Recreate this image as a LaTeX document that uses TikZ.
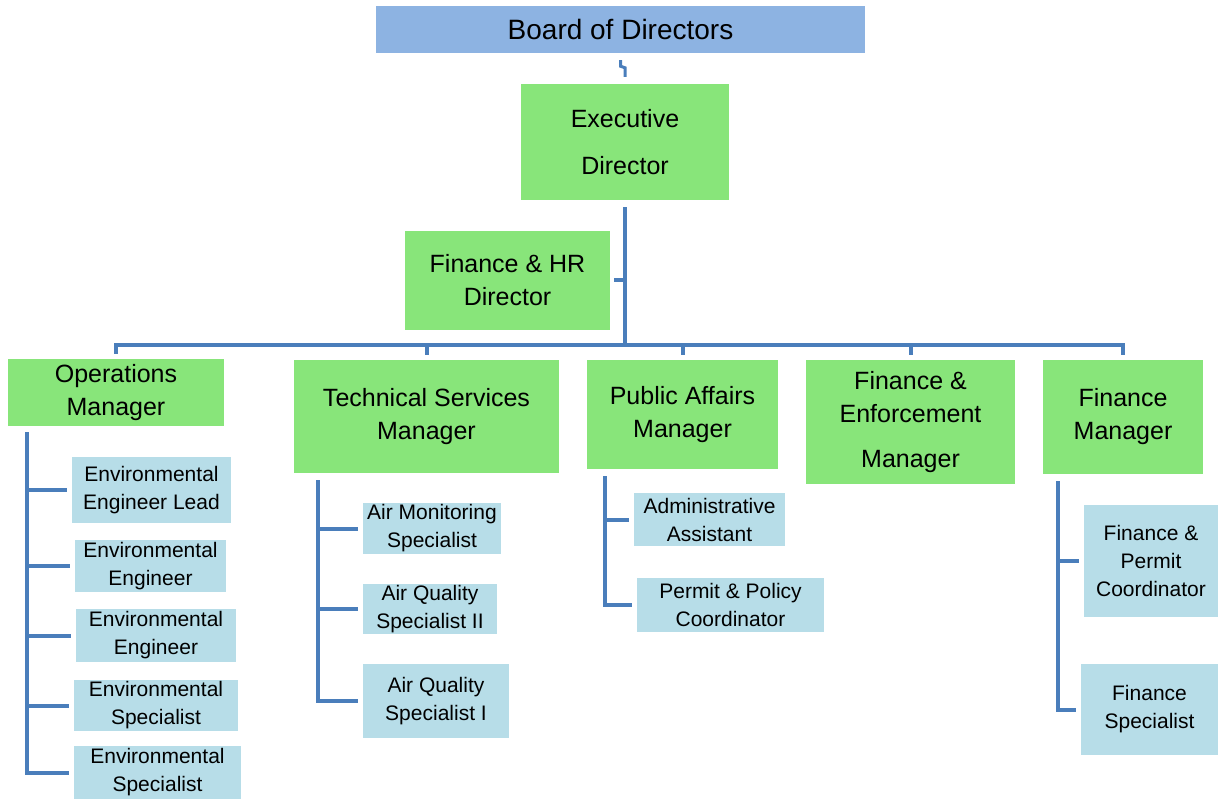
\documentclass[tikz,border=0pt]{standalone}
\usepackage{fontspec}
\setmainfont{Liberation Sans}
\begin{document}
\begin{tikzpicture}[x=1pt,y=-1pt,
  link/.style={draw=linkblue, line width=4pt},
  topbox/.style={fill=boardblue, inner sep=0pt, font=\fontsize{28}{32}\selectfont},
  mgr/.style={fill=mgrgreen, inner sep=0pt, align=center, font=\fontsize{25}{33}\selectfont},
  staff/.style={fill=staffblue, inner sep=0pt, align=center, font=\fontsize{21}{28}\selectfont}]
\definecolor{linkblue}{RGB}{74,126,187}
\definecolor{boardblue}{RGB}{141,179,226}
\definecolor{mgrgreen}{RGB}{136,229,122}
\definecolor{staffblue}{RGB}{183,221,232}
\useasboundingbox (0,0) rectangle (1222,799);
\node[topbox, minimum width=489, minimum height=47] (board) at (620.5,29.5) {Board of Directors};
\node[mgr, minimum width=208, minimum height=116] (exec) at (625,142) {Executive\\[14pt]Director};
\node[mgr, minimum width=205, minimum height=99] (fhr) at (507.5,280.5) {Finance \& HR\\Director};
\node[mgr, minimum width=216, minimum height=67] (ops) at (116,392.5) {Operations\\Manager};
\node[mgr, minimum width=265, minimum height=113] (tsm) at (426.5,416.5) {Technical Services\\Manager};
\node[mgr, minimum width=191, minimum height=109] (pam) at (682.5,414.5) {Public Affairs\\Manager};
\node[mgr, minimum width=209, minimum height=124] (fem) at (910.5,422) {Finance \&\\Enforcement\\[12pt]Manager};
\node[mgr, minimum width=160, minimum height=114] (fm) at (1123,417) {Finance\\Manager};
\node[staff, minimum width=159, minimum height=66] (eel) at (151.5,490) {Environmental\\Engineer Lead};
\node[staff, minimum width=151, minimum height=52] (ee1) at (150.5,566) {Environmental\\Engineer};
\node[staff, minimum width=160, minimum height=53] (ee2) at (156,635.5) {Environmental\\Engineer};
\node[staff, minimum width=164, minimum height=51] (es1) at (156,705.5) {Environmental\\Specialist};
\node[staff, minimum width=167, minimum height=53] (es2) at (157.5,772.5) {Environmental\\Specialist};
\node[staff, minimum width=138, minimum height=51] (ams) at (432,528.5) {Air Monitoring\\Specialist};
\node[staff, minimum width=134, minimum height=50] (aqs2) at (430,609) {Air Quality\\Specialist II};
\node[staff, minimum width=146, minimum height=74] (aqs1) at (436,701) {Air Quality\\Specialist I};
\node[staff, minimum width=151, minimum height=53] (aa) at (709.5,519.5) {Administrative\\Assistant};
\node[staff, minimum width=187, minimum height=54] (ppc) at (730.5,605) {Permit \& Policy\\Coordinator};
\node[staff, minimum width=134, minimum height=112] (fpc) at (1151,561) {Finance \&\\Permit\\Coordinator};
\node[staff, minimum width=137, minimum height=91] (fs) at (1149.5,709.5) {Finance\\Specialist};
\draw[link, line width=3pt] ([yshift=-7pt]board.south) -- ++(0,6) -- ([yshift=16pt]exec.north) -- ([yshift=7pt]exec.north);
\coordinate (bus) at (625,345);
\draw[link] ([yshift=-7pt]exec.south) -- (bus);
\draw[link] ([xshift=4pt]fhr.east) -- (fhr.east -| bus);
\draw[link] ([yshift=5pt]ops.north) -- (ops.north |- bus) -- (fm.north |- bus) -- ([yshift=5pt]fm.north);
\foreach \m in {tsm,pam,fem} \draw[link] (\m.north |- bus) -- ([yshift=5pt]\m.north);
\coordinate (opsbar) at ([shift={(19pt,-6pt)}]ops.south west);
\draw[link] (opsbar) |- ([xshift=-5pt]es2.west);
\foreach \s in {eel,ee1,ee2,es1} \draw[link] (opsbar |- \s.west) -- ([xshift=-5pt]\s.west);
\coordinate (tsmbar) at ([shift={(24pt,-7pt)}]tsm.south west);
\draw[link] (tsmbar) |- ([xshift=-5pt]aqs1.west);
\foreach \s in {ams,aqs2} \draw[link] (tsmbar |- \s.west) -- ([xshift=-5pt]\s.west);
\coordinate (pambar) at ([shift={(18pt,-7pt)}]pam.south west);
\draw[link] (pambar) |- ([xshift=-5pt]ppc.west);
\draw[link] (pambar |- aa.west) -- ([xshift=-5pt]aa.west);
\coordinate (fmbar) at ([shift={(15pt,-7pt)}]fm.south west);
\draw[link] (fmbar) |- ([xshift=-5pt]fs.west);
\draw[link] (fmbar |- fpc.west) -- ([xshift=-5pt]fpc.west);
\end{tikzpicture}
\end{document}
